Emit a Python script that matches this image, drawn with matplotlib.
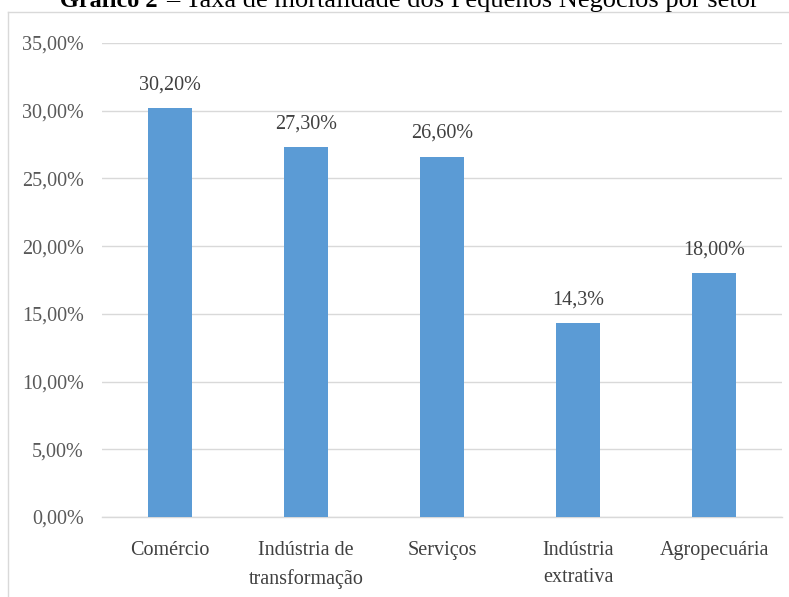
import matplotlib
matplotlib.use("Agg")
import matplotlib.pyplot as plt
from matplotlib.lines import Line2D
from matplotlib.ticker import FixedLocator

categories = ["Comércio", "Indústria de\ntransformação", "Serviços", "Indústria\nextrativa", "Agropecuária"]
values = [30.20, 27.30, 26.60, 14.3, 18.00]
value_labels = ["30,20%", "27,30%", "26,60%", "14,3%", "18,00%"]
yticks = [0, 5, 10, 15, 20, 25, 30, 35]
ytick_labels = ["0,00%", "5,00%", "10,00%", "15,00%", "20,00%", "25,00%", "30,00%", "35,00%"]
title_bold = "Gráfico 2"
title_rest = "– Taxa de mortalidade dos Pequenos Negócios por setor"

plt.rcParams['font.family'] = ['Liberation Serif', 'DejaVu Serif']
FS = 14.5

fig = plt.figure(figsize=(7.89, 5.97), dpi=100)
W, H = 789, 597
ax = fig.add_axes([102 / W, 1 - 517 / H, (782 - 102) / W, (517 - 43) / H])

x = list(range(len(categories)))
ax.bar(x, values, width=0.32, color="#5B9BD5", zorder=3)
for xi, v, lab in zip(x, values, value_labels):
    ax.annotate(lab, (xi, v), xytext=(0, 10), textcoords="offset points",
                ha="center", va="bottom", fontsize=FS, color="#404040")

ax.set_xlim(-0.5, len(categories) - 0.5)
ax.set_ylim(0, 35)
ax.yaxis.set_major_locator(FixedLocator(yticks))
ax.set_yticklabels(ytick_labels, fontsize=FS, color="#595959")
ax.set_xticks(x)
ax.set_xticklabels(categories, fontsize=FS, color="#404040", linespacing=1.62)
ax.tick_params(axis="y", length=0, pad=13)
ax.tick_params(axis="x", length=0, pad=17)
ax.grid(axis="y", color="#D9D9D9", linewidth=1, zorder=0)
for s in ["top", "right", "left"]:
    ax.spines[s].set_visible(False)
ax.spines["bottom"].set_color("#D9D9D9")
ax.spines["bottom"].set_linewidth(1)

# chart border (left and top visible)
fig.add_artist(Line2D([8 / W, 8 / W], [0, 1 - 12 / H], color="#D9D9D9", lw=1, transform=fig.transFigure))
fig.add_artist(Line2D([8 / W, 1], [1 - 12 / H, 1 - 12 / H], color="#D9D9D9", lw=1, transform=fig.transFigure))

# title, partially cut at the top (as in the reference)
fig.text(158 / W, 1 - 7 / H, title_bold, ha="right", va="baseline", fontsize=17.5,
         fontweight="bold", color="black")
fig.text(166 / W, 1 - 7 / H, title_rest, ha="left", va="baseline", fontsize=19, color="black")

fig.savefig("out.png", dpi=100)
